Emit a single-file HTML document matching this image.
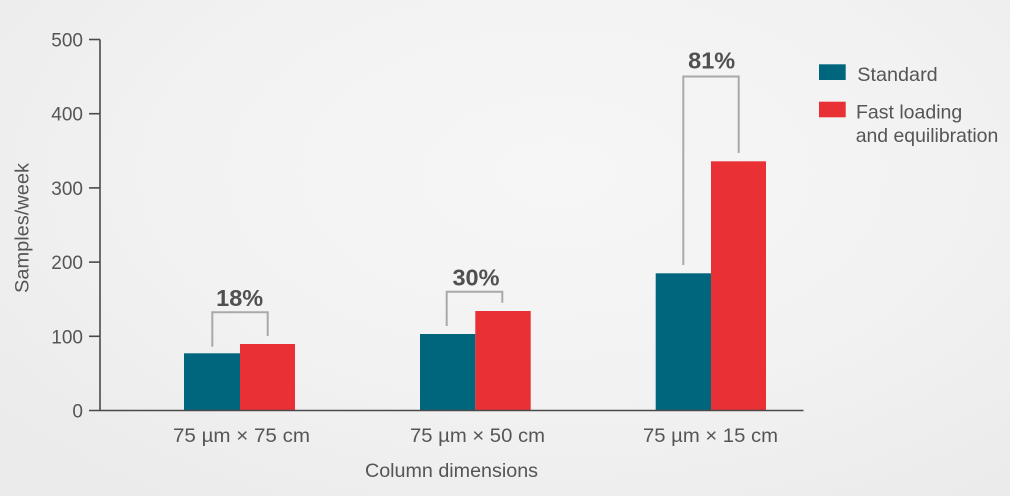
<!DOCTYPE html>
<html>
<head>
<meta charset="utf-8">
<style>
  html,body{margin:0;padding:0;}
  body{width:1010px;height:496px;overflow:hidden;
    background: radial-gradient(ellipse 70% 80% at 55% 35%, #f6f6f6 0%, #f2f2f2 55%, #ebebeb 100%);}
  svg{display:block;}
  text{font-family:"Liberation Sans", Arial, sans-serif;}
</style>
</head>
<body>
<svg width="1010" height="496" viewBox="0 0 1010 496" xmlns="http://www.w3.org/2000/svg">
  <!-- bars -->
  <rect x="184" y="353.3" width="56" height="56.7" fill="#00667e"/>
  <rect x="240" y="344" width="55" height="66" fill="#e83035"/>
  <rect x="420" y="334" width="55.3" height="76" fill="#00667e"/>
  <rect x="475.3" y="311" width="55.4" height="99" fill="#e83035"/>
  <rect x="655.7" y="273.3" width="55.3" height="136.7" fill="#00667e"/>
  <rect x="711" y="161.3" width="55" height="248.7" fill="#e83035"/>

  <!-- axes -->
  <g stroke="#4a4a4a" stroke-width="1.6" fill="none">
    <line x1="100" y1="39.5" x2="100" y2="410.5"/>
    <line x1="89" y1="410.5" x2="803.5" y2="410.5"/>
    <line x1="89" y1="39.5" x2="100" y2="39.5"/>
    <line x1="89" y1="113.7" x2="100" y2="113.7"/>
    <line x1="89" y1="187.9" x2="100" y2="187.9"/>
    <line x1="89" y1="262.1" x2="100" y2="262.1"/>
    <line x1="89" y1="336.3" x2="100" y2="336.3"/>
  </g>

  <!-- tick labels -->
  <g fill="#555" font-size="19" text-anchor="end">
    <text x="83" y="46.5">500</text>
    <text x="83" y="120.7">400</text>
    <text x="83" y="194.9">300</text>
    <text x="83" y="269.1">200</text>
    <text x="83" y="343.3">100</text>
    <text x="83" y="417.5">0</text>
  </g>

  <!-- y title -->
  <text transform="translate(28.5,228) rotate(-90)" text-anchor="middle" fill="#555" font-size="19.5" textLength="130" lengthAdjust="spacingAndGlyphs">Samples/week</text>

  <!-- brackets -->
  <g stroke="#a9a9a9" stroke-width="2" fill="none">
    <polyline points="212.3,346.7 212.3,312.3 267.7,312.3 267.7,336"/>
    <polyline points="446.7,326 446.7,291.7 502.3,291.7 502.3,302.7"/>
    <polyline points="683.3,265 683.3,76.5 738.7,76.5 738.7,153"/>
  </g>

  <!-- percent labels -->
  <g fill="#505050" font-size="23" font-weight="bold" text-anchor="middle">
    <text x="239.7" y="306" textLength="47" lengthAdjust="spacingAndGlyphs">18%</text>
    <text x="476" y="285.7" textLength="47" lengthAdjust="spacingAndGlyphs">30%</text>
    <text x="711.7" y="68.3" textLength="47" lengthAdjust="spacingAndGlyphs">81%</text>
  </g>

  <!-- x labels -->
  <g fill="#555" font-size="19.5" text-anchor="middle">
    <text x="241.5" y="442" textLength="137" lengthAdjust="spacingAndGlyphs">75 µm × 75 cm</text>
    <text x="477.5" y="442" textLength="135" lengthAdjust="spacingAndGlyphs">75 µm × 50 cm</text>
    <text x="710.5" y="442" textLength="135" lengthAdjust="spacingAndGlyphs">75 µm × 15 cm</text>
    <text x="451.5" y="477" textLength="173" lengthAdjust="spacingAndGlyphs">Column dimensions</text>
  </g>

  <!-- legend -->
  <rect x="819" y="64.3" width="26.7" height="15.7" fill="#00667e"/>
  <rect x="819" y="101.7" width="26.7" height="15.6" fill="#e83035"/>
  <g fill="#555" font-size="19.5">
    <text x="857.3" y="81" textLength="80.4" lengthAdjust="spacingAndGlyphs">Standard</text>
    <text x="856" y="118.5">Fast loading</text>
    <text x="855.7" y="142" textLength="142.6" lengthAdjust="spacingAndGlyphs">and equilibration</text>
  </g>
</svg>
</body>
</html>
